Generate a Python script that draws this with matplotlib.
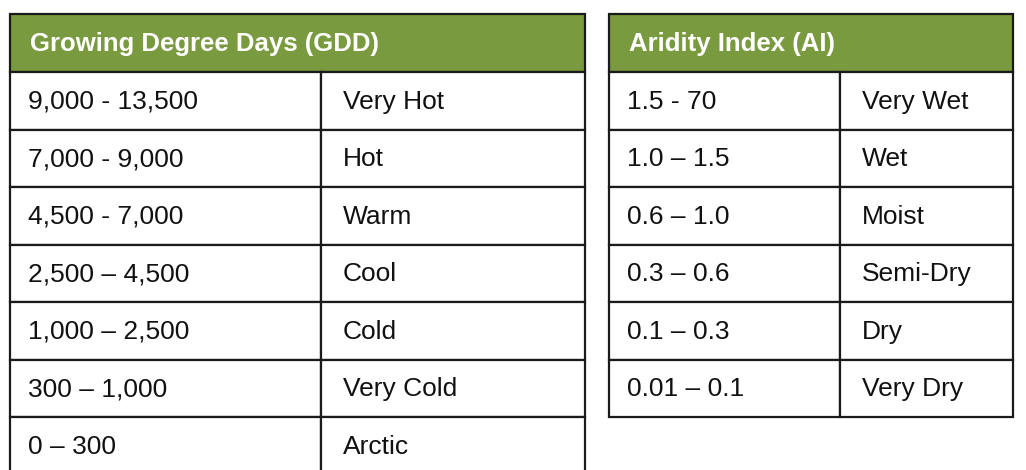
import matplotlib.pyplot as plt
from matplotlib.patches import Rectangle

gdd_title = "Growing Degree Days (GDD)"
gdd_ranges = ["9,000 - 13,500", "7,000 - 9,000", "4,500 - 7,000", "2,500 \u2013 4,500",
              "1,000 \u2013 2,500", "300 \u2013 1,000", "0 \u2013 300"]
gdd_labels = ["Very Hot", "Hot", "Warm", "Cool", "Cold", "Very Cold", "Arctic"]

ai_title = "Aridity Index (AI)"
ai_ranges = ["1.5 - 70", "1.0 \u2013 1.5", "0.6 \u2013 1.0", "0.3 \u2013 0.6",
             "0.1 \u2013 0.3", "0.01 \u2013 0.1"]
ai_labels = ["Very Wet", "Wet", "Moist", "Semi-Dry", "Dry", "Very Dry"]

GREEN = "#7a9a3f"
EDGE = "#1a1a1a"
FONT = ["Liberation Sans Narrow", "Liberation Sans", "DejaVu Sans"]

fig = plt.figure(figsize=(10.26, 4.70), dpi=100)
ax = fig.add_axes([0, 0, 1, 1])
ax.set_xlim(0, 1026)
ax.set_ylim(470, 0)
ax.axis("off")


def draw_table(x0, x1, xdiv, title, ranges, labels):
    top, head_h, row_h = 14, 58, 57.5
    ax.add_patch(Rectangle((x0, top), x1 - x0, head_h, facecolor=GREEN,
                           edgecolor=EDGE, lw=1.6))
    ax.text(x0 + 20, top + head_h / 2 + 1, title, color="white", fontsize=18.5,
            fontweight="bold", family=FONT, va="center", ha="left")
    for i, (r, l) in enumerate(zip(ranges, labels)):
        y = top + head_h + i * row_h
        ax.add_patch(Rectangle((x0, y), xdiv - x0, row_h, facecolor="white",
                               edgecolor=EDGE, lw=1.6))
        ax.add_patch(Rectangle((xdiv, y), x1 - xdiv, row_h, facecolor="white",
                               edgecolor=EDGE, lw=1.6))
        ax.text(x0 + 18, y + row_h / 2 + 1, r, fontsize=19, family=FONT,
                va="center", ha="left", color="#111111")
        ax.text(xdiv + 22, y + row_h / 2 + 1, l, fontsize=19, family=FONT,
                va="center", ha="left", color="#111111")


draw_table(10, 585, 321, gdd_title, gdd_ranges, gdd_labels)
draw_table(609, 1013, 840, ai_title, ai_ranges, ai_labels)

fig.savefig("out.png", dpi=100, facecolor="white")
